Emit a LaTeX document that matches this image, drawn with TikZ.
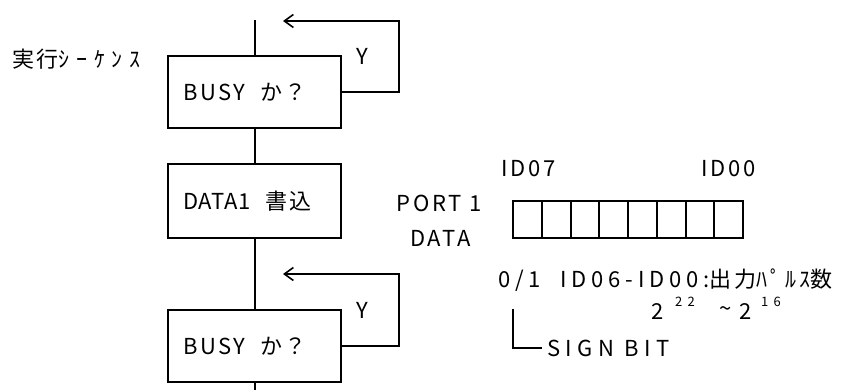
\documentclass[tikz,border=0pt]{standalone}
\usepackage{fontspec}
\setmainfont{Noto Sans CJK JP}
\newcommand{\tracked}[1]{\addfontfeature{LetterSpace=#1}}
\usetikzlibrary{arrows.meta}
\begin{document}
\begin{tikzpicture}[x=1pt,y=-1pt,
  every node/.style={font=\fontsize{22}{25}\selectfont\tracked{12}, inner sep=0pt},
  small/.style={font=\fontsize{13}{15}\selectfont\tracked{40}},
  stepbox/.style={draw, line width=2pt, minimum height=72pt, text width=143pt,
    inner xsep=15pt, align=left},
  flow/.style={line width=2pt},
  back/.style={flow, -{Straight Barb[length=9pt,width=13pt,line width=1.6pt]}},
  cell/.style={draw, line width=2pt, minimum width=28.75pt, minimum height=37pt}]
\useasboundingbox (0,0) rectangle (847,390);

% flow chart
\coordinate (top) at (254.5,20);
\coordinate (bot) at (254.5,390);
\node[stepbox] (b1) at (254.5,92.5) {BUSY\ \ か？};
\node[stepbox, minimum height=74pt] (b2) at (254.5,201) {{\tracked{4}DATA1}\hspace{14pt}書込};
\node[stepbox] (b3) at (254.5,346) {BUSY\ \ か？};
\coordinate (r1) at (283,21);
\coordinate (r2) at (283,274);

\draw[flow] (top) -- (b1.north);
\draw[flow] (b1.south) -- (b2.north);
\draw[flow] (b2.south) -- (b3.north);
\draw[flow] (b3.south) -- (bot);
\draw[back] (b1.east) -- ++(57,0) |- (r1);
\draw[back] (b3.east) -- ++(57,0) |- (r2);

\node[anchor=base west] (seq) at (12,68) {実行{\tracked{30}ｼｰｹﾝｽ}};
\node[anchor=base] (y1) at (362.5,65) {Y};
\node[anchor=base] (y2) at (362.5,319) {Y};

% port 1 data register
\node[anchor=base] (port) at (439,212) {PORT 1};
\node[anchor=base] (data) at (440.5,247) {DATA};
\foreach \i in {0,...,7}
  \node[cell] (c\i) at (527.375+\i*28.75,219.5) {};
\node[anchor=base] (id7) at (528.5,177) {ID07};
\node[anchor=base] (id0) at (728.5,177) {ID00};
\node[anchor=base west] (desc) at (498,288)
  {{\tracked{22}0/1\ \ ID06-ID00:}出力{\tracked{15}ﾊﾟﾙｽ}数};
\node[anchor=base] (e1) at (657.5,320) {2};
\node[anchor=base, small] (s1) at (685,307) {22};
\node[anchor=base] (tl) at (726,317) {\textasciitilde};
\node[anchor=base] (e2) at (745.5,320) {2};
\node[anchor=base, small] (s2) at (771,307) {16};
\node[anchor=base west] (sign) at (547,356) {{\tracked{25}SIGN BIT}};
\draw[flow] (513,309) |- ([xshift=-5pt]sign.west);
\end{tikzpicture}
\end{document}
